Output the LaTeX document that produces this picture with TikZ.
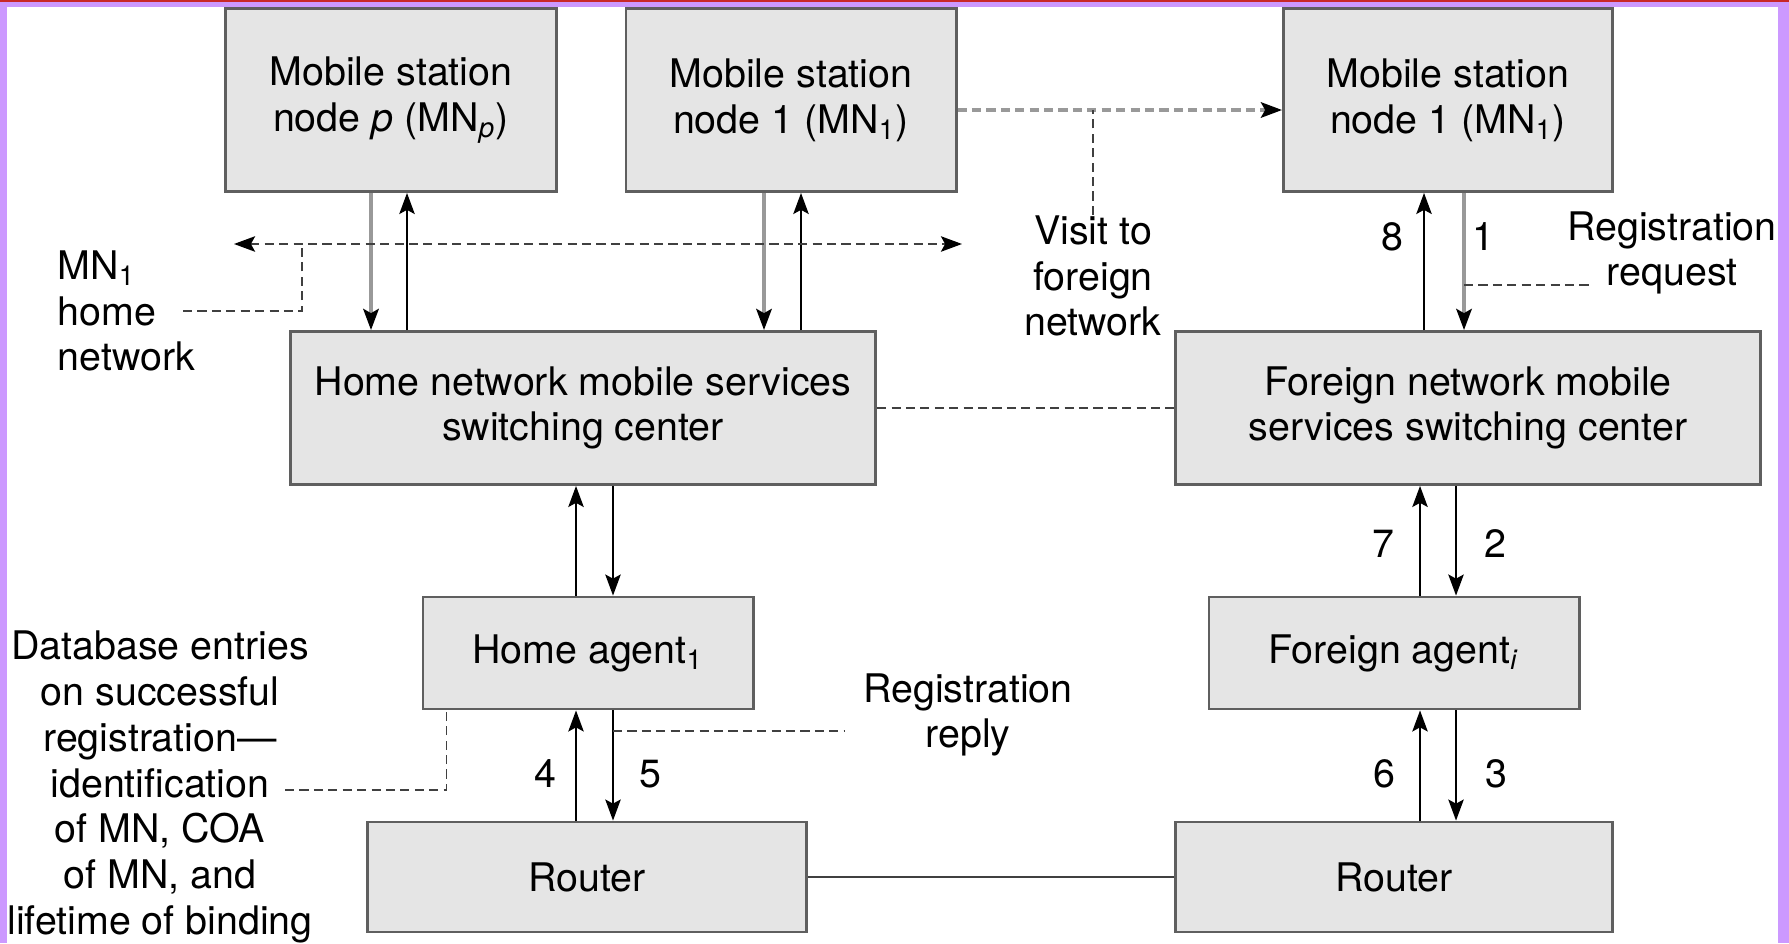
\documentclass[tikz,border=0pt]{standalone}
\usepackage{fontspec}
\setmainfont{TeX Gyre Heros}
\usetikzlibrary{arrows.meta}

\definecolor{framepurple}{RGB}{204,153,255}
\definecolor{framered}{RGB}{200,40,40}
\definecolor{boxfill}{RGB}{229,229,229}
\definecolor{boxline}{RGB}{95,95,95}

\begin{document}
\begin{tikzpicture}[
                x=0.01cm, y=-0.01cm,
                font=\fontsize{11.2}{13}\selectfont,
                >={Stealth[length=6pt, width=4.4pt, inset=1.2pt, black]},
                box/.style={draw=boxline, fill=boxfill, line width=0.8pt, inner sep=0pt, align=center},
                note/.style={align=center, inner sep=0pt},
                arr/.style={->, line width=0.5pt},
                greyarr/.style={arr, draw=black!40, line width=1pt},
                lead/.style={draw=black!75, line width=0.5pt, dash pattern=on 2.6pt off 1.5pt}
            ]

                \fill[white] (0, 0) rectangle (1789, 943);

                % mobile stations
                \node[box, minimum width=3.31cm, minimum height=1.83cm] (mnp) at (391, 100) {Mobile station\\node \textit{p} (MN\textsubscript{\textit{p}})};
                \node[box, minimum width=3.30cm, minimum height=1.83cm] (mnh) at (791, 100) {Mobile station\\node 1 (MN\textsubscript{1})};
                \node[box, minimum width=3.29cm, minimum height=1.83cm] (mnf) at (1448, 100) {Mobile station\\node 1 (MN\textsubscript{1})};

                % switching centers, agents, routers
                \node[box, minimum width=5.85cm, minimum height=1.53cm] (hmsc) at (583, 408) {Home network mobile services\\switching center};
                \node[box, minimum width=5.85cm, minimum height=1.53cm] (fmsc) at (1468, 408) {Foreign network mobile\\services switching center};
                \node[box, minimum width=3.30cm, minimum height=1.12cm] (ha) at (588, 653) {Home agent\textsubscript{1}};
                \node[box, minimum width=3.70cm, minimum height=1.12cm] (fa) at (1394, 653) {Foreign agent\textsubscript{\textit{i}}};
                \node[box, minimum width=4.39cm, minimum height=1.10cm] (hr) at (587, 877) {Router};
                \node[box, minimum width=4.37cm, minimum height=1.10cm] (fr) at (1394, 877) {Router};

                % lanes of the vertical arrows
                \foreach \lane/\xx in {pd/371, pu/407, hd/764, hu/801, au/576, ad/613, fu/1424, fd/1464, gu/1420, gd/1456} {
                    \coordinate (\lane) at (\xx, 0);
                }

                \draw[greyarr] (mnp.south -| pd) -- (hmsc.north -| pd);
                \draw[arr] (hmsc.north -| pu) -- (mnp.south -| pu);
                \draw[greyarr] (mnh.south -| hd) -- (hmsc.north -| hd);
                \draw[arr] (hmsc.north -| hu) -- (mnh.south -| hu);
                \draw[arr] (ha.north -| au) -- (hmsc.south -| au);
                \draw[arr] (hmsc.south -| ad) -- (ha.north -| ad);
                \draw[arr] (hr.north -| au) -- (ha.south -| au);
                \draw[arr] (ha.south -| ad) -- (hr.north -| ad);
                \draw[arr] (fmsc.north -| fu) -- (mnf.south -| fu);
                \draw[greyarr] (mnf.south -| fd) -- (fmsc.north -| fd);
                \draw[arr] (fa.north -| gu) -- (fmsc.south -| gu);
                \draw[arr] (fmsc.south -| gd) -- (fa.north -| gd);
                \draw[arr] (fr.north -| gu) -- (fa.south -| gu);
                \draw[arr] (fa.south -| gd) -- (fr.north -| gd);

                \foreach \num/\px/\py in {8/1392/237, 1/1483/237, 7/1383/544, 2/1495/544, 4/545/774, 5/650/774, 6/1384/774, 3/1496/774} {
                    \node[note] (n\num) at (\px, \py) {\num};
                }

                % links between the two networks
                \draw[line width=0.6pt, draw=black!75] (hr) -- (fr);
                \draw[lead] (hmsc.east) -- (fmsc.west);
                \draw[lead, draw=black!40, line width=1pt, ->] ([yshift=-0.1cm]mnh.east) -- ([yshift=-0.1cm]mnf.west);

                % notes and their leaders
                \node[note, align=left, anchor=west] (homenote) at (57, 311) {MN\textsubscript{1}\\home\\network};
                \coordinate (homeL) at (234, 244);
                \coordinate (homeR) at (962, 244);
                \coordinate (homeK) at (302, 244);
                \coordinate (homeS) at (183, 311);
                \draw[lead, <->] (homeL) -- (homeR);
                \draw[lead] (homeS) -| (homeK);

                \node[note] (visit) at (1093, 276) {Visit to\\foreign\\network};
                \coordinate (visitK) at (1093, 110);
                \draw[lead] (visit.north) -- (visitK);

                \node[note] (request) at (1672, 253) {Registration\\request};
                \coordinate (requestK) at (1464, 285);
                \coordinate (requestE) at (1592, 285);
                \draw[lead] (requestK) -- (requestE);

                \node[note] (reply) at (968, 715) {Registration\\reply};
                \coordinate (replyK) at (613, 731);
                \coordinate (replyE) at (844, 731);
                \draw[lead] (replyK) -- (replyE);

                \node[note] (database) at (160, 787) {Database entries\\on successful\\registration---\\identification\\of MN, COA\\of MN, and\\lifetime of binding};
                \coordinate (databaseS) at (285, 790);
                \draw[lead] (databaseS) -| ([xshift=0.25cm]ha.south west);

                % frame
                \fill[framepurple] (0, 0) rectangle (7, 943);
                \fill[framepurple] (1778, 0) rectangle (1789, 943);
                \fill[framepurple] (0, 0) rectangle (1789, 7);
                \fill[framered] (0, 0) rectangle (1789, 2);
                \useasboundingbox (0, 0) rectangle (1789, 943);
            \end{tikzpicture}
\end{document}
